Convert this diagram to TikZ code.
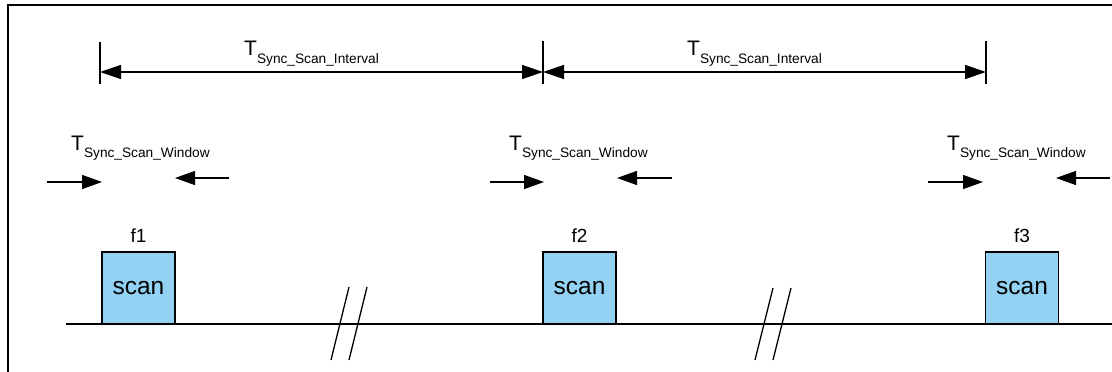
\documentclass[tikz,border=0pt]{standalone}
\usepackage{fontspec}
\setmainfont{Liberation Sans}
\usetikzlibrary{arrows.meta}
\definecolor{scanblue}{RGB}{147,210,242}
\tikzset{
  frameline/.style={line width=2.2pt,black},
  timeline/.style={line width=1.4pt,black},
  tickline/.style={line width=1.3pt,black},
  dimarrow/.style={line width=1.4pt,{Triangle[length=21pt,width=14pt]}-{Triangle[length=21pt,width=14pt]}},
  winarrow/.style={line width=1.4pt,-{Triangle[length=20pt,width=14pt]}},
  scanbox/.style={draw,line width=1.4pt,fill=scanblue,minimum width=73pt,minimum height=72pt,inner sep=0pt,font=\fontsize{24.5}{25}\selectfont},
  flabel/.style={anchor=base,inner sep=0pt,font=\fontsize{19}{19}\selectfont},
  tlabel/.style={anchor=base west,inner sep=0pt,font=\fontsize{21}{21}\selectfont},
  breakline/.style={line width=1.3pt,black}
}
\newcommand{\subtxt}[2]{\raisebox{-#1pt}{\fontsize{13.7}{14}\selectfont #2}}
\begin{document}
\begin{tikzpicture}[x=1pt,y=-1pt]
\useasboundingbox (0,0) rectangle (1112,372);
% frame
\coordinate (fbl) at (8,372);
\coordinate (ftl) at (8,5);
\coordinate (ftr) at (1112,5);
\draw[frameline] (fbl) -- (ftl) -- (ftr);
% time line
\coordinate (lineS) at (66,324);
\coordinate (lineE) at (1112,324);
\draw[timeline] (lineS) -- (lineE);
% break marks
\coordinate (b1a) at (349,287); \coordinate (b1b) at (331,360);
\coordinate (b1c) at (367,287); \coordinate (b1d) at (349,360);
\coordinate (b2a) at (773,288); \coordinate (b2b) at (755,360);
\coordinate (b2c) at (791,288); \coordinate (b2d) at (773,360);
\draw[breakline] (b1a) -- (b1b);
\draw[breakline] (b1c) -- (b1d);
\draw[breakline] (b2a) -- (b2b);
\draw[breakline] (b2c) -- (b2d);
% scan boxes
\node[scanbox] (box1) at (138.5,288) {\raisebox{-3pt}{scan}};
\node[scanbox] (box2) at (579.5,288) {\raisebox{-3pt}{scan}};
\node[scanbox] (box3) at (1022,288) {\raisebox{-3pt}{scan}};
% frequency labels
\node[flabel] (f1) at (138.5,242) {f1};
\node[flabel] (f2) at (579.5,242) {f2};
\node[flabel] (f3) at (1022,242) {f3};
% interval ticks
\coordinate (t1a) at (100,42); \coordinate (t1b) at (100,84); \coordinate (t1) at (100,72);
\coordinate (t2a) at (543,41); \coordinate (t2b) at (543,84); \coordinate (t2) at (543,72);
\coordinate (t3a) at (986,41); \coordinate (t3b) at (986,84); \coordinate (t3) at (986,72);
\draw[tickline] (t1a) -- (t1b);
\draw[tickline] (t2a) -- (t2b);
\draw[tickline] (t3a) -- (t3b);
\draw[dimarrow] (t1) -- (t2);
\draw[dimarrow] (t2) -- (t3);
% interval labels
\node[tlabel] (int1) at (244,55) {T\subtxt{9}{Sync\_Scan\_Interval}};
\node[tlabel] (int2) at (687,55) {T\subtxt{9}{Sync\_Scan\_Interval}};
% window labels
\node[tlabel] (win1) at (71,150) {T\subtxt{7}{Sync\_Scan\_Window}};
\node[tlabel] (win2) at (509,150) {T\subtxt{7}{Sync\_Scan\_Window}};
\node[tlabel] (win3) at (947,150) {T\subtxt{7}{Sync\_Scan\_Window}};
% window arrows
\coordinate (w1s) at (47,182); \coordinate (w1e) at (102,182);
\coordinate (w1r) at (229,178); \coordinate (w1l) at (175,178);
\coordinate (w2s) at (490,182); \coordinate (w2e) at (544,182);
\coordinate (w2r) at (672,178); \coordinate (w2l) at (617,178);
\coordinate (w3s) at (928,182); \coordinate (w3e) at (983,182);
\coordinate (w3r) at (1110,178); \coordinate (w3l) at (1056,178);
\draw[winarrow] (w1s) -- (w1e);
\draw[winarrow] (w1r) -- (w1l);
\draw[winarrow] (w2s) -- (w2e);
\draw[winarrow] (w2r) -- (w2l);
\draw[winarrow] (w3s) -- (w3e);
\draw[winarrow] (w3r) -- (w3l);
\end{tikzpicture}
\end{document}
